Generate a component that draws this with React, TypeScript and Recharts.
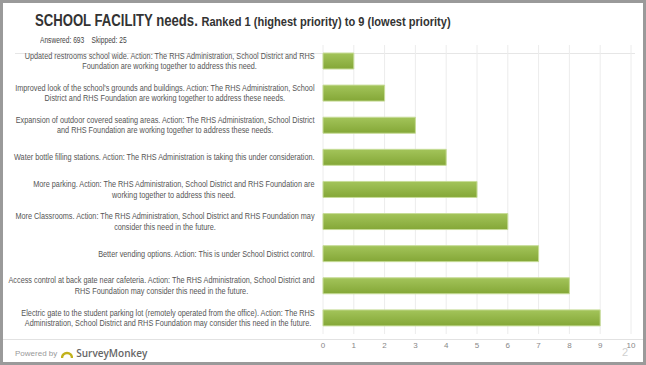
import React from 'react';
import { BarChart, Bar, XAxis, YAxis, CartesianGrid } from 'recharts';

const categories = [
  'Updated restrooms school wide. Action: The RHS Administration, School District and RHS\nFoundation are working together to address this need.',
  "Improved look of the school's grounds and buildings. Action: The RHS Administration, School\nDistrict and RHS Foundation are working together to address these needs.",
  'Expansion of outdoor covered seating areas. Action: The RHS Administration, School District\nand RHS Foundation are working together to address these needs.',
  'Water bottle filling stations. Action: The RHS Administration is taking this under consideration.',
  'More parking. Action: The RHS Administration, School District and RHS Foundation are\nworking together to address this need.',
  'More Classrooms. Action: The RHS Administration, School District and RHS Foundation may\nconsider this need in the future.',
  'Better vending options. Action: This is under School District control.',
  'Access control at back gate near cafeteria. Action: The RHS Administration, School District and\nRHS Foundation may consider this need in the future.',
  'Electric gate to the student parking lot (remotely operated from the office). Action: The RHS\nAdministration, School District and RHS Foundation may consider this need in the future.',
];
const ranks = [1, 2, 3, 4, 5, 6, 7, 8, 9];
const xTicks = [0, 1, 2, 3, 4, 5, 6, 7, 8, 9, 10];

const data = categories.map((name, i) => ({ name, rank: ranks[i] }));

const sans = '"Liberation Sans", Arial, sans-serif';
const labelSize = 8.2;
const squeeze = 0.89; // the source font is a narrow one, so squeeze Liberation Sans

let ctx: CanvasRenderingContext2D | null = null;
function textWidth(s: string) {
  if (!ctx) ctx = document.createElement('canvas').getContext('2d');
  if (!ctx) return s.length * 4;
  ctx.font = `${labelSize}px ${sans}`;
  return ctx.measureText(s).width;
}

function CategoryTick(props: any) {
  const { x, y, payload } = props;
  const lines: string[] = String(payload.value).split('\n');
  const maxW = Math.max(...lines.map(textWidth)) * squeeze;
  const cx = x - maxW / 2;
  const lh = 10.5;
  const start = y - ((lines.length - 1) * lh) / 2;
  return (
    <g transform={`translate(${cx},0) scale(${squeeze},1)`}>
      {lines.map((l, i) => (
        <text
          key={i}
          x={0}
          y={start + i * lh}
          dy="0.35em"
          textAnchor="middle"
          fill="#555"
          fontSize={labelSize}
          fontFamily={sans}
        >
          {l}
        </text>
      ))}
    </g>
  );
}

export default function App() {
  return (
    <div style={{ position: 'absolute', left: 0, top: 0, width: 646, height: 365, background: '#9a9a9a' }}>
      <div style={{ position: 'absolute', left: 3, top: 3, width: 640, height: 359, background: '#fff' }} />
      <div
        style={{
          position: 'absolute',
          left: 35,
          top: 12,
          whiteSpace: 'nowrap',
          fontFamily: sans,
          fontWeight: 'bold',
          color: '#333',
          transform: 'scaleX(0.82)',
          transformOrigin: 'left top',
        }}
      >
        <span style={{ fontSize: 16 }}>SCHOOL FACILITY needs. </span>
        <span style={{ fontSize: 13.5 }}>Ranked 1 (highest priority) to 9 (lowest priority)</span>
      </div>
      <div
        style={{
          position: 'absolute',
          left: 40,
          top: 35,
          whiteSpace: 'nowrap',
          fontFamily: sans,
          fontSize: 8.5,
          color: '#444',
          transform: 'scaleX(0.78)',
          transformOrigin: 'left top',
        }}
      >
        Answered: 693&nbsp;&nbsp;&nbsp;&nbsp;Skipped: 25
      </div>
      <div style={{ position: 'absolute', left: 15, top: 53, width: 620, height: 1, background: '#e6e6e6' }} />
      <div style={{ position: 'absolute', left: 3, top: 339, width: 640, height: 1, background: '#e2e2e2' }} />
      <div style={{ position: 'absolute', left: 0, top: 0 }}>
        <BarChart
          width={646}
          height={365}
          data={data}
          layout="vertical"
          margin={{ top: 45, right: 15, bottom: 1, left: 0 }}
          barCategoryGap={0}
        >
          <defs>
            <linearGradient id="barFill" x1="0" y1="0" x2="0" y2="1">
              <stop offset="0%" stopColor="#a3c45a" />
              <stop offset="100%" stopColor="#84a737" />
            </linearGradient>
          </defs>
          <CartesianGrid horizontal={false} stroke="#ececec" />
          <XAxis
            type="number"
            domain={[0, 10]}
            ticks={xTicks}
            height={30}
            axisLine={false}
            tickLine={false}
            tickMargin={2}
            interval={0}
            tick={{ fill: '#888', fontSize: 8, fontFamily: sans }}
          />
          <YAxis
            type="category"
            dataKey="name"
            width={323}
            axisLine={false}
            tickLine={false}
            tickMargin={2}
            interval={0}
            tick={<CategoryTick />}
          />
          <Bar dataKey="rank" barSize={16} fill="url(#barFill)" stroke="#c7dc98" strokeWidth={1} isAnimationActive={false} />
        </BarChart>
      </div>
      <div
        style={{
          position: 'absolute',
          left: 15,
          top: 346,
          whiteSpace: 'nowrap',
          display: 'flex',
          alignItems: 'center',
          fontFamily: sans,
        }}
      >
        <span style={{ fontSize: 8, color: '#999' }}>Powered by</span>
        <svg width={12} height={9} style={{ marginLeft: 4, marginRight: 3 }}>
          <path d="M1 9 A5 5 0 0 1 11 9" fill="none" stroke="#c2b21c" strokeWidth={2.4} />
        </svg>
        <span style={{ fontSize: 10, color: '#666', fontFamily: '"Open Sans", sans-serif', fontWeight: 600 }}>SurveyMonkey</span>
      </div>
      <div
        style={{
          position: 'absolute',
          left: 622,
          top: 346,
          fontSize: 11,
          color: '#d0d0d0',
          fontFamily: sans,
        }}
      >
        2
      </div>
    </div>
  );
}
